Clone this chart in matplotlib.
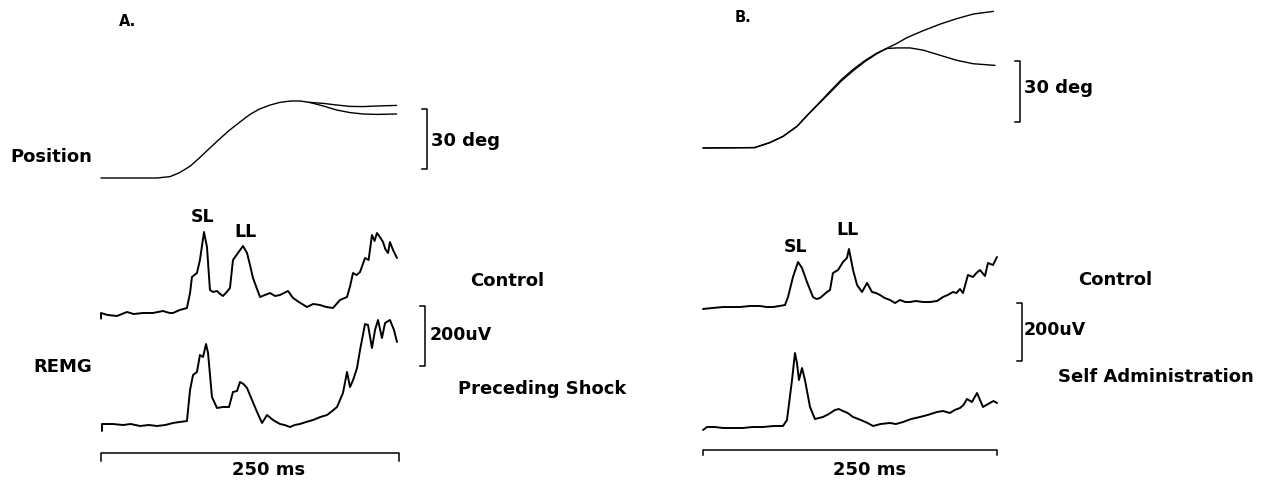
import matplotlib
matplotlib.use("Agg")
import matplotlib.pyplot as plt

W, H = 1267, 483

# ---------------- data (time in ms, position in deg, EMG in uV) ----------------
# Panel A position
posA_t_rise = [0, 47, 58, 66, 75, 83, 91, 100, 108, 117, 125, 133, 142, 150, 159, 167, 175]
posA_rise = [0, 0, 0.7, 2.7, 6, 10.3, 14.8, 19.8, 24, 28.2, 31.8, 34.5, 36.5, 37.8, 38.5, 38.5, 37.8]
posA_t_tail = [175, 186.5, 197.7, 208.9, 220, 231.3, 248]
posA_tail1 = [37.8, 37.3, 36.5, 35.8, 35.7, 36, 36.3]
posA_tail2 = [37.8, 36, 34, 32.7, 32, 31.8, 32]

# Panel B position
posB_t_rise = [0, 44, 57, 68, 80, 88, 98, 108, 118, 128, 138, 148, 156]
posB_rise = [0, 0.2, 2.7, 5.7, 10.7, 15.7, 21.5, 27.3, 33.2, 38.2, 42.7, 46.5, 49]
posB_rise2 = [0, 0.2, 2.7, 5.7, 10.7, 15.7, 21.8, 27.9, 33.9, 38.9, 43.2, 46.8, 49]
posB_t_tail = [156, 164.7, 173.2, 187.3, 201.5, 215.7, 229.9, 247]
posB_tail1 = [49, 51.5, 54.3, 57.8, 61, 63.7, 66, 67.3]
posB_t_tail2 = [156, 164.7, 176, 187.3, 201.5, 215.7, 229.9, 248.3]
posB_tail2 = [49, 49.3, 49.3, 48.2, 45.7, 43.2, 41.5, 40.7]

# Panel A REMG, control
emgA_ctrl_t = [0, 0, 5.6, 13.4, 21.8, 27.4, 35.2, 43.6, 52, 57.6, 60.4, 66, 72.1, 74.7, 76.3,
               80.5, 83, 86.4, 88.9, 91.4, 94, 97.3, 100, 102.3, 105.5, 108.2, 110.7, 114.9,
               119.1, 122.5, 125, 127.5, 133.4, 137.5, 141.8, 146, 150.2, 153.5, 156.9, 161.1,
               166, 172.8, 178, 183.7, 189, 194.6, 200.5, 206.4, 209, 211.4, 214.5, 217.3,
               221.5, 224.5, 227.3, 229.5, 231.5, 234, 236.6, 238.5, 240.8, 242.4, 245, 248.3]
emgA_ctrl = [-12, 6.7, 0, -3.3, 10, 3.3, 6.7, 6.7, 13.3, 6.7, 6.7, 16.7, 23.3, 73.3, 126.7,
             140, 183.3, 276.7, 226.7, 83.3, 76.7, 80, 70, 63.3, 76.7, 90, 183.3, 206.7,
             230, 206.7, 166.7, 123.3, 60, 66.7, 73.3, 63.3, 66.7, 73.3, 80, 56.7,
             43.3, 26.7, 36.7, 33.3, 26.7, 23.3, 50, 60, 96.7, 140, 133.3, 143.3,
             190, 183.3, 266.7, 246.7, 273.3, 260, 243.3, 220, 206.7, 243.3, 216.7, 190]

# Panel A REMG, preceding shock
emgA_shock_t = [0.8, 0.8, 10, 18.5, 25, 32.7, 40, 47, 54, 60.4, 66, 72.1, 74.7, 77.2, 80.5, 83,
                85.6, 88.1, 89.8, 93.1, 97.3, 102.3, 107.4, 110.7, 114.1, 116.6, 119.5, 122.5,
                126.7, 130.9, 135.1, 139.3, 144.3, 150.2, 154, 158.6, 162.5, 166.9, 172,
                177.9, 184, 189.6, 194, 198, 203, 206.4, 208.9, 211.5, 214.8, 217.3, 221.5,
                224, 227.3, 229.9, 232.4, 235.7, 238.3, 242.4, 245.8, 248.3]
emgA_shock = [-20, 3.3, 3.3, 0, 3.3, -3.3, 0, -3.3, 0, 6.7, 10, 13.3, 116.7, 166.7, 176.7, 233.3,
              226.7, 270, 240, 93.3, 56.7, 60, 60, 110, 113.3, 143.3, 136.7, 123.3,
              83.3, 43.3, 6.7, 33.3, 16.7, 3.3, 0, -6.7, 0, 3.3, 10,
              16.7, 26.7, 33.3, 46.7, 60, 106.7, 176.7, 126.7, 150, 190, 250, 336.7,
              333.3, 256.7, 316.7, 350, 290, 340, 350, 316.7, 276.7]

# Panel B REMG, control
emgB_ctrl_t = [0, 8, 17, 24, 31.5, 40, 48.5, 54, 59.5, 65, 69.7, 72.3, 76.5, 80.8, 84.2, 88.4,
               93.5, 96.5, 99.5, 102.5, 105.4, 108, 110.5, 114.8, 117, 119, 122.4, 124.1,
               127.6, 131, 135.2, 139.5, 143.7, 147, 150.5, 154.5, 159, 163.3, 167.5, 172,
               176, 181, 187.1, 193, 199, 204.1, 208, 212.6, 215.5, 218.5, 221.1, 225.3,
               229.6, 232.5, 235.5, 239.8, 242.3, 246.6, 250]
emgB_ctrl = [-3.4, 0, 3.4, 3.4, 3.4, 6.9, 6.9, 3.4, 3.4, 6.9, 10.3, 37.9, 106.9, 158.6, 137.9, 89.7,
             37.9, 31, 34.5, 44.8, 55.2, 62.1, 120.7, 131, 144.8, 158.6, 172.4, 203.4,
             131, 79.3, 55.2, 86.2, 55.2, 51.7, 44.8, 34.5, 27.6, 17.2, 27.6, 20.7,
             20.7, 24.1, 20.7, 20.7, 24.1, 37.9, 44.8, 55.2, 51.7, 65.5, 51.7, 113.8,
             106.9, 120.7, 131, 110.3, 155.2, 148.3, 175.9]

# Panel B REMG, self administration
emgB_self_t = [0, 3.4, 10, 17, 25, 34, 42, 51, 60, 68, 71.4, 75.7, 78.2, 79.9, 81.6, 84.2, 86.7,
               91, 95.2, 102, 107, 112.2, 115.5, 119, 123, 127.6, 132, 136.1, 140, 144.6, 151,
               159, 164, 170.1, 177, 184.5, 191, 199, 204, 210, 214, 218.5, 221.5, 224.5,
               228.7, 233, 238.1, 241, 244, 247, 250]
emgB_self = [-10.3, 0, 0, -3.4, -3.4, -3.4, 0, 0, 3.4, 3.4, 24.1, 162.1, 255.2, 220.7, 162.1,
             203.4, 162.1, 69, 27.6, 34.5, 44.8, 58.6, 62, 55.2, 48.3, 34.5, 27.6, 20.7, 13.8,
             3.4, 10.3, 13.8, 10.3, 17.2, 27.6, 34.5, 41.4, 51.7, 55.2, 48.3, 58.6, 65.5,
             75.9, 96.6, 86.2, 117.2, 69, 75.9, 82.8, 89.7, 82.8]

# scale bar sizes
pos_bar_deg = 30
emg_bar_uv = 200
time_bar_ms = 250

# ---------------- figure ----------------
fig = plt.figure(figsize=(W / 100, H / 100), dpi=100)
fig.patch.set_facecolor("white")
FONT = "DejaVu Sans"


def overlay_axes(x0_px, px_per_ms, y0_px, px_per_unit):
    """Full-figure transparent axes whose data coords map ms/units onto the page."""
    ax = fig.add_axes([0, 0, 1, 1])
    ax.set_xlim(-x0_px / px_per_ms, (W - x0_px) / px_per_ms)
    ax.set_ylim((y0_px - H) / px_per_unit, y0_px / px_per_unit)
    ax.axis("off")
    ax.patch.set_alpha(0)
    return ax


A_x0, A_ppm = 101, 298 / 250
B_x0, B_ppm = 703, 294 / 250

axPA = overlay_axes(A_x0, A_ppm, 178, 2.0)
axCA = overlay_axes(A_x0, A_ppm, 315, 0.3)
axSA = overlay_axes(A_x0, A_ppm, 425, 0.3)
axPB = overlay_axes(B_x0, B_ppm, 148, 2.03)
axCB = overlay_axes(B_x0, B_ppm, 308, 0.29)
axSB = overlay_axes(B_x0, B_ppm, 427, 0.29)

kpos = dict(color="black", lw=1.0, solid_joinstyle="round", solid_capstyle="round")
kemg = dict(color="black", lw=1.4, solid_joinstyle="round", solid_capstyle="round")

# position traces
axPA.plot(posA_t_rise, posA_rise, **kpos)
axPA.plot(posA_t_tail, posA_tail1, **kpos)
axPA.plot(posA_t_tail, posA_tail2, **kpos)
axPB.plot(posB_t_rise, posB_rise, **kpos)
axPB.plot(posB_t_rise, posB_rise2, **kpos)
axPB.plot(posB_t_tail, posB_tail1, **kpos)
axPB.plot(posB_t_tail2, posB_tail2, **kpos)

# EMG traces
axCA.plot(emgA_ctrl_t, emgA_ctrl, **kemg)
axSA.plot(emgA_shock_t, emgA_shock, **kemg)
axCB.plot(emgB_ctrl_t, emgB_ctrl, **kemg)
axSB.plot(emgB_self_t, emgB_self, **kemg)

kbar = dict(color="black", lw=1.1)


def vbar(ax, t, lo, size, tick):
    ax.plot([t - tick, t, t, t - tick], [lo + size, lo + size, lo, lo], **kbar)


def hbar(ax, y, size, tick):
    ax.plot([0, 0, size, size], [y - tick, y, y, y - tick], **kbar)


vbar(axPA, 273.5, 4.5, pos_bar_deg, 4)
vbar(axPB, 269.6, 13, pos_bar_deg, 4)
vbar(axCA, 271.8, -170, emg_bar_uv, 4)
vbar(axCB, 271.3, -183, emg_bar_uv, 4)
hbar(axSA, -93, time_bar_ms, 28)
hbar(axSB, -79, time_bar_ms, 18)

# ---------------- text ----------------
def label(x, y, s, size=13, ha="left"):
    fig.text(x / W, 1 - y / H, s, ha=ha, va="center", fontsize=size,
             fontweight="bold", family=FONT)


label(128, 22, "A.", 10.5, "center")
label(743, 17, "B.", 10.5, "center")
label(10, 157, "Position")
label(431, 141, "30 deg")
label(1024, 88, "30 deg")
label(203, 217, "SL", 12.5, "center")
label(246, 232, "LL", 12.5, "center")
label(796, 247, "SL", 12.5, "center")
label(847, 230, "LL", 12.5, "center")
label(470, 281, "Control")
label(1078, 280, "Control")
label(430, 335, "200uV", 12.5)
label(1024, 330, "200uV", 12.5)
label(33, 367, "REMG")
label(458, 389, "Preceding Shock")
label(1058, 377, "Self Administration")
label(269, 470, "250 ms", 13, "center")
label(870, 470, "250 ms", 13, "center")

fig.savefig("out.png", dpi=100, facecolor="white")
